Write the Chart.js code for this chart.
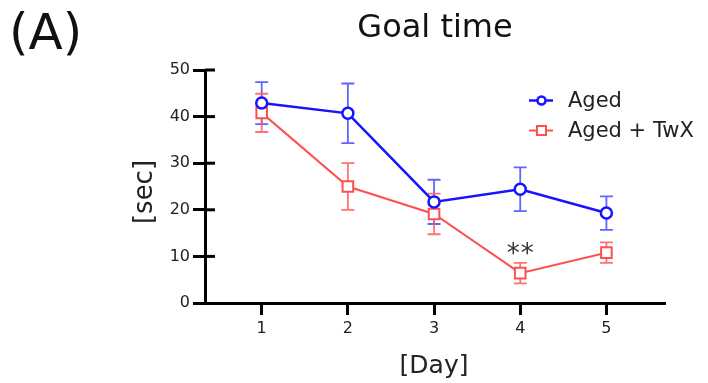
<!DOCTYPE html>
<html><head><meta charset="utf-8">
<script src="https://cdn.jsdelivr.net/npm/chart.js@4.4.1/dist/chart.umd.min.js"></script>
<style>html,body{margin:0;padding:0;background:#fff}#wrap{position:relative;width:708px;height:383px}</style>
</head><body><div id="wrap"><canvas id="c" width="708" height="383"></canvas></div>
<script>
const days = [1, 2, 3, 4, 5];
const agedMean = [42.9, 40.7, 21.7, 24.4, 19.3];
const agedErr  = [4.5, 6.4, 4.75, 4.7, 3.6];
const twxMean  = [40.8, 25.0, 19.1, 6.4, 10.8];
const twxErr   = [4.1, 5.0, 4.35, 2.2, 2.2];
const yTicks   = [0, 10, 20, 30, 40, 50];
const seriesNames = ['Aged', 'Aged + TwX'];
const sigMarks = [{day: 4, value: 11.8, text: '*'}];
const titleText = 'Goal time', panelText = '(A)', xTitle = '[Day]', yTitle = '[sec]';

const BLUE = '#1414ff', RED = '#ff5050';
const FONT = "'DejaVu Sans', sans-serif";

const extras = {
  id: 'extras',
  beforeDatasetsDraw(chart) {
    const ctx = chart.ctx, xs = chart.scales.x, ys = chart.scales.y;
    const sets = [[agedMean, agedErr, 'rgba(60,60,255,0.8)'], [twxMean, twxErr, 'rgba(255,90,90,0.85)']];
    ctx.save();
    sets.forEach(([m, e, col]) => {
      ctx.strokeStyle = col; ctx.lineWidth = 1.8;
      days.forEach((d, i) => {
        const x = xs.getPixelForValue(d);
        const yt = ys.getPixelForValue(m[i] + e[i]);
        const yb = ys.getPixelForValue(m[i] - e[i]);
        ctx.beginPath();
        ctx.moveTo(x, yt); ctx.lineTo(x, yb);
        ctx.moveTo(x - 6.5, yt); ctx.lineTo(x + 6.5, yt);
        ctx.moveTo(x - 6.5, yb); ctx.lineTo(x + 6.5, yb);
        ctx.stroke();
      });
    });
    // inward part of y ticks
    ctx.strokeStyle = '#000'; ctx.lineWidth = 3;
    ys.ticks.forEach(t => {
      if (t.value === 0) return;
      const y = ys.getPixelForValue(t.value);
      ctx.beginPath(); ctx.moveTo(chart.chartArea.left, y); ctx.lineTo(chart.chartArea.left + 10, y); ctx.stroke();
    });
    ctx.restore();
  },
  afterDraw(chart) {
    const ctx = chart.ctx, xs = chart.scales.x, ys = chart.scales.y, ca = chart.chartArea;
    ctx.save();
    // significance stars
    ctx.fillStyle = '#333';
    const sf = 26;
    ctx.font = sf + 'px ' + FONT;
    ctx.textAlign = 'center'; ctx.textBaseline = 'alphabetic';
    sigMarks.forEach(s => {
      const x = xs.getPixelForValue(s.day), y = ys.getPixelForValue(s.value) + 0.54 * sf;
      ctx.fillText(s.text, x - 7, y);
      ctx.fillText(s.text, x + 7, y);
    });
    // chart title
    ctx.fillStyle = '#111';
    ctx.font = '32px ' + FONT;
    ctx.fillText(titleText, (ca.left + ca.right) / 2, 37);
    // panel label
    ctx.font = '50px ' + FONT;
    ctx.textAlign = 'left';
    ctx.fillText(panelText, 9, 49);
    // axis titles
    ctx.fillStyle = '#222';
    ctx.font = '25px ' + FONT;
    ctx.textAlign = 'center'; ctx.textBaseline = 'middle';
    ctx.fillText(xTitle, xs.getPixelForValue(3), 366);
    ctx.save();
    ctx.translate(145, 192);
    ctx.rotate(-Math.PI / 2);
    ctx.font = '26px ' + FONT;
    ctx.fillText(yTitle, 0, 0);
    ctx.restore();
    // legend
    const items = [[BLUE, 'circle', 2.5], [RED, 'rect', 2]];
    items.forEach(([col, style, lw], i) => {
      const y = 100.5 + i * 30;
      ctx.strokeStyle = col; ctx.lineWidth = lw;
      ctx.beginPath(); ctx.moveTo(529, y); ctx.lineTo(553, y); ctx.stroke();
      ctx.fillStyle = '#fff';
      ctx.beginPath();
      if (style === 'circle') ctx.arc(541.5, y, 4, 0, Math.PI * 2);
      else ctx.rect(537, y - 4.5, 9, 9);
      ctx.fill(); ctx.stroke();
      ctx.fillStyle = '#222';
      ctx.font = '21px ' + FONT;
      ctx.textAlign = 'left'; ctx.textBaseline = 'middle';
      ctx.fillText(seriesNames[i], 568, y + 1);
    });
    ctx.restore();
  }
};

new Chart(document.getElementById('c'), {
  type: 'line',
  data: {
    datasets: [
      { label: seriesNames[0], data: days.map((d, i) => ({x: d, y: agedMean[i]})),
        borderColor: BLUE, backgroundColor: '#fff', borderWidth: 2.5,
        pointStyle: 'circle', pointRadius: 5.5, pointBorderWidth: 2.5, pointBackgroundColor: '#fff', pointBorderColor: BLUE },
      { label: seriesNames[1], data: days.map((d, i) => ({x: d, y: twxMean[i]})),
        borderColor: RED, backgroundColor: '#fff', borderWidth: 2,
        pointStyle: 'rect', pointRadius: 7.5, pointBorderWidth: 2, pointBackgroundColor: '#fff', pointBorderColor: RED }
    ]
  },
  options: {
    responsive: false, animation: false,
    layout: { padding: { left: 0, right: 43, top: 70, bottom: 0 } },
    plugins: { legend: { display: false }, tooltip: { enabled: false }, title: { display: false } },
    scales: {
      x: {
        type: 'linear', min: 0.342, max: 5.68,
        afterBuildTicks: s => { s.ticks = days.map(v => ({value: v})); },
        afterFit: s => { s.height = 80; },
        border: { color: '#000', width: 3 },
        grid: { drawOnChartArea: false, tickLength: 12, tickWidth: 3, tickColor: '#000' },
        ticks: { color: '#222', font: { family: FONT, size: 16 }, padding: 4 }
      },
      y: {
        min: 0, max: 50,
        afterBuildTicks: s => { s.ticks = yTicks.map(v => ({value: v})); },
        afterFit: s => { s.width = 205; },
        border: { color: '#000', width: 3 },
        grid: { drawOnChartArea: false, tickLength: 12, tickWidth: 3, tickColor: '#000' },
        ticks: { color: '#222', font: { family: FONT, size: 16 }, padding: 3 }
      }
    }
  },
  plugins: [extras]
});
</script></body></html>
